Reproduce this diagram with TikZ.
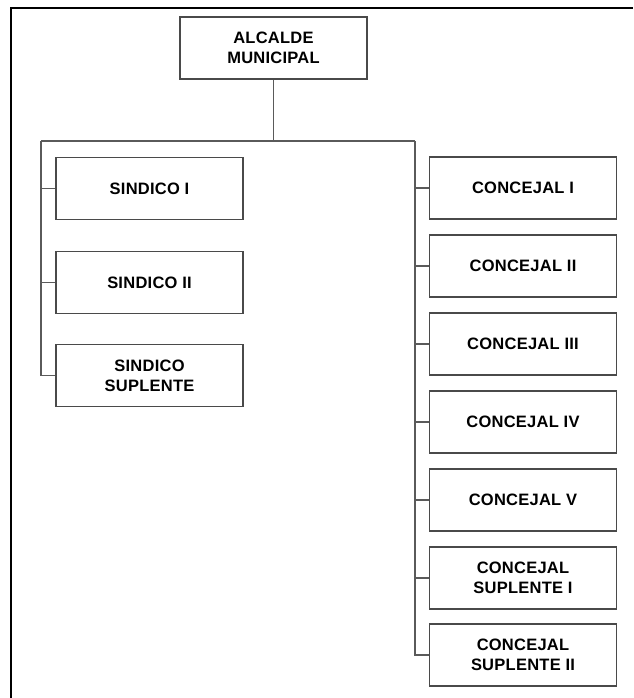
\documentclass[tikz,border=0pt]{standalone}
\usepackage{fontspec}
\setmainfont{Liberation Sans}
\begin{document}
\begin{tikzpicture}[x=1pt,y=-1pt,
  orgbox/.style={draw=boxgray, line width=1.7pt, fill=white,
    minimum width=187pt, minimum height=62pt, inner sep=0pt,
    align=center, text=black,
    font=\fontsize{16.5}{20}\selectfont\bfseries\addfontfeatures{LetterSpace=1.5}},
  link/.style={draw=linegray, line width=1.7pt}]
\definecolor{boxgray}{HTML}{4A4A4A}
\definecolor{linegray}{HTML}{5A5A5A}
\useasboundingbox (0,0) rectangle (633,698);

% outer frame (top and left edges)
\draw[line width=2.4pt, black] (11,698) -- (11,8) -- (633,8);

% head of the organisation
\node[orgbox] (alc) at (273.5,48) {ALCALDE\\MUNICIPAL};

% left column
\node[orgbox] (s1) at (149.5,188.5) {SINDICO I};
\node[orgbox] (s2) at (149.5,282.5) {SINDICO II};
\node[orgbox] (s3) at (149.5,375.5) {SINDICO\\SUPLENTE};

% right column
\node[orgbox] (c1) at (523,188) {CONCEJAL I};
\node[orgbox] (c2) at (523,266) {CONCEJAL II};
\node[orgbox] (c3) at (523,344) {CONCEJAL III};
\node[orgbox] (c4) at (523,422) {CONCEJAL IV};
\node[orgbox] (c5) at (523,500) {CONCEJAL V};
\node[orgbox] (c6) at (523,578) {CONCEJAL\\SUPLENTE I};
\node[orgbox] (c7) at (523,655) {CONCEJAL\\SUPLENTE II};

% connectors
\coordinate (lb) at (41,141);
\coordinate (rb) at (415,141);
\draw[link] (alc.south) -- (alc.south |- lb);
\draw[link] (lb) -- (rb);
\draw[link] (lb) |- (s3.west);
\draw[link] (s1.west) -- (s1.west -| lb);
\draw[link] (s2.west) -- (s2.west -| lb);
\draw[link] (rb) |- (c7.west);
\foreach \n in {c1,c2,c3,c4,c5,c6}
  \draw[link] (\n.west) -- (\n.west -| rb);
\end{tikzpicture}
\end{document}
